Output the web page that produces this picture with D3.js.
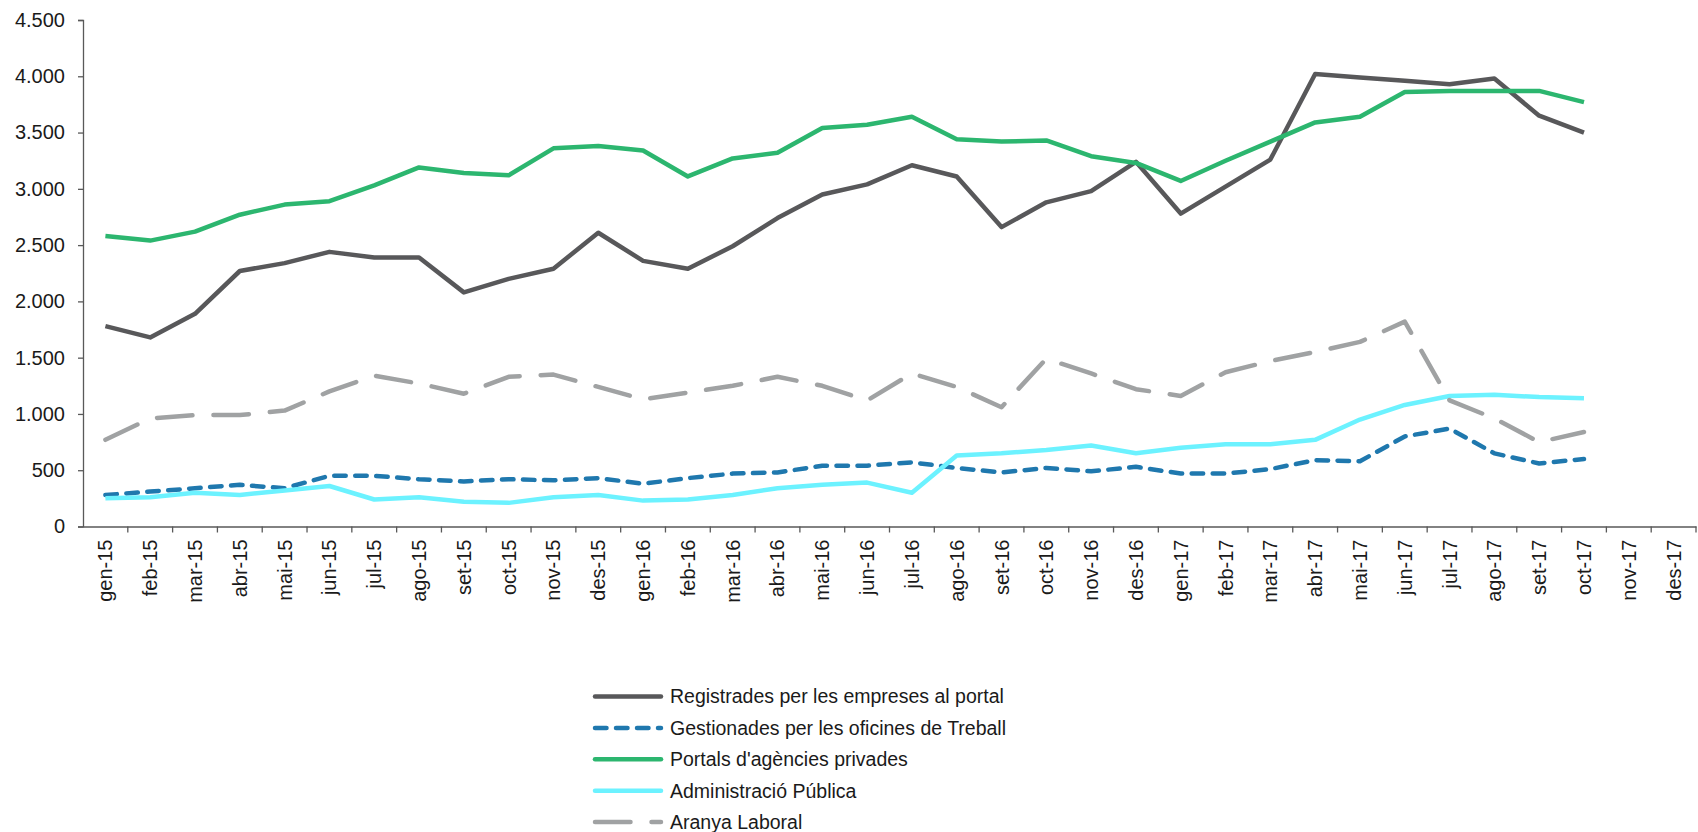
<!DOCTYPE html>
<html lang="ca">
<head>
<meta charset="UTF-8">
<script src="https://d3js.org/d3.v7.min.js"></script>
<style>
  body { margin: 0; background: #fff; }
  svg text { font-family: "Liberation Sans", Arial, sans-serif; fill: #1a1a1a; }
  .axis path, .axis line { stroke: #595959; stroke-width: 1.3; }
</style>
</head>
<body>
<svg id="chart" width="1698" height="832"></svg>
<script>
// months on the x axis
const months = ['gen-15','feb-15','mar-15','abr-15','mai-15','jun-15','jul-15','ago-15','set-15','oct-15','nov-15','des-15',
                'gen-16','feb-16','mar-16','abr-16','mai-16','jun-16','jul-16','ago-16','set-16','oct-16','nov-16','des-16',
                'gen-17','feb-17','mar-17','abr-17','mai-17','jun-17','jul-17','ago-17','set-17','oct-17','nov-17','des-17'];

const yTicks = [0, 500, 1000, 1500, 2000, 2500, 3000, 3500, 4000, 4500];

// series values (gen-15 .. oct-17)
const registrades = [1780,1680,1890,2270,2340,2440,2390,2390,2080,2200,2290,2610,
                     2360,2290,2490,2740,2950,3040,3210,3110,2660,2880,2980,3240,
                     2780,3020,3260,4020,3990,3960,3930,3980,3650,3500];
const gestionades = [280,310,340,370,340,450,450,420,400,420,410,430,
                     380,430,470,480,540,540,570,520,480,520,490,530,
                     470,470,510,590,580,800,870,650,560,600];
const portals = [2580,2540,2620,2770,2860,2890,3030,3190,3140,3120,3360,3380,
                 3340,3110,3270,3320,3540,3570,3640,3440,3420,3430,3290,3230,
                 3070,3250,3420,3590,3640,3860,3870,3870,3870,3770];
const administracio = [250,260,300,280,320,360,240,260,220,210,260,280,
                       230,240,280,340,370,390,300,630,650,680,720,650,
                       700,730,730,770,950,1080,1160,1170,1150,1140];
const aranya = [770,960,990,990,1030,1200,1340,1270,1180,1330,1350,1240,
                1130,1190,1250,1330,1250,1120,1360,1240,1060,1490,1360,1220,
                1160,1370,1470,1550,1640,1820,1120,960,750,840];

const seriesNames = ['Registrades per les empreses al portal', 'Gestionades per les oficines de Treball',
                     "Portals d'agències privades", 'Administració Pública', 'Aranya Laboral'];

const series = [
  {name: seriesNames[0], values: registrades,   color: '#58585a', dash: null},
  {name: seriesNames[1], values: gestionades,   color: '#1f78ae', dash: '11.5,9.5'},
  {name: seriesNames[2], values: portals,       color: '#2cb66f', dash: null},
  {name: seriesNames[3], values: administracio, color: '#6cf2ff', dash: null},
  {name: seriesNames[4], values: aranya,        color: '#a0a2a3', dash: '35.5,21'}
];

const svg = d3.select('#chart');
const plotLeft = 83, plotRight = 1696, plotTop = 20, plotBottom = 526.5;

const x = d3.scaleBand().domain(months).range([plotLeft, plotRight]);
const y = d3.scaleLinear().domain([0, 4500]).range([plotBottom, plotTop]);

// y axis
const yAxis = svg.append('g')
  .attr('class', 'axis')
  .attr('transform', `translate(${plotLeft},0)`)
  .call(d3.axisLeft(y).tickValues(yTicks).tickSize(5).tickPadding(13)
        .tickFormat(d => d3.format(',')(d).replace(/,/g, '.')));
yAxis.selectAll('text').style('font-size', '20px');

// x axis, ticks between the months
const xAxis = svg.append('g')
  .attr('class', 'axis')
  .attr('transform', `translate(0,${plotBottom})`)
  .call(d3.axisBottom(x).tickSize(0).tickFormat(''));
xAxis.selectAll('.tick').remove();
xAxis.selectAll('line.sep')
  .data(months)
  .enter()
  .append('line')
  .attr('x1', d => x(d) + x.bandwidth())
  .attr('x2', d => x(d) + x.bandwidth())
  .attr('y1', 0)
  .attr('y2', 6);

svg.append('g')
  .selectAll('text')
  .data(months)
  .enter()
  .append('text')
  .attr('transform', d => `translate(${x(d) + x.bandwidth() / 2},${plotBottom + 13}) rotate(-90)`)
  .attr('text-anchor', 'end')
  .attr('dy', '0.35em')
  .style('font-size', '20px')
  .text(d => d);

// lines
const line = d3.line()
  .x((d, i) => x(months[i]) + x.bandwidth() / 2)
  .y(d => y(d));

svg.append('g')
  .selectAll('path')
  .data(series)
  .enter()
  .append('path')
  .attr('d', d => line(d.values))
  .attr('fill', 'none')
  .attr('stroke', d => d.color)
  .attr('stroke-width', 4.5)
  .attr('stroke-linejoin', 'round')
  .attr('stroke-linecap', d => d.dash ? 'round' : 'butt')
  .attr('stroke-dasharray', d => d.dash);

// legend
const legend = svg.append('g').attr('transform', 'translate(593,696.5)');
const rows = legend.selectAll('g')
  .data(series)
  .enter()
  .append('g')
  .attr('transform', (d, i) => `translate(0,${i * 31.4})`);

rows.append('line')
  .attr('x1', 2).attr('x2', 68)
  .attr('stroke', d => d.color)
  .attr('stroke-width', 4.5)
  .attr('stroke-linecap', 'round')
  .attr('stroke-dasharray', d => d.dash);

rows.append('text')
  .attr('x', 77)
  .attr('dy', '0.35em')
  .style('font-size', '19.5px')
  .text(d => d.name);
</script>
</body>
</html>
